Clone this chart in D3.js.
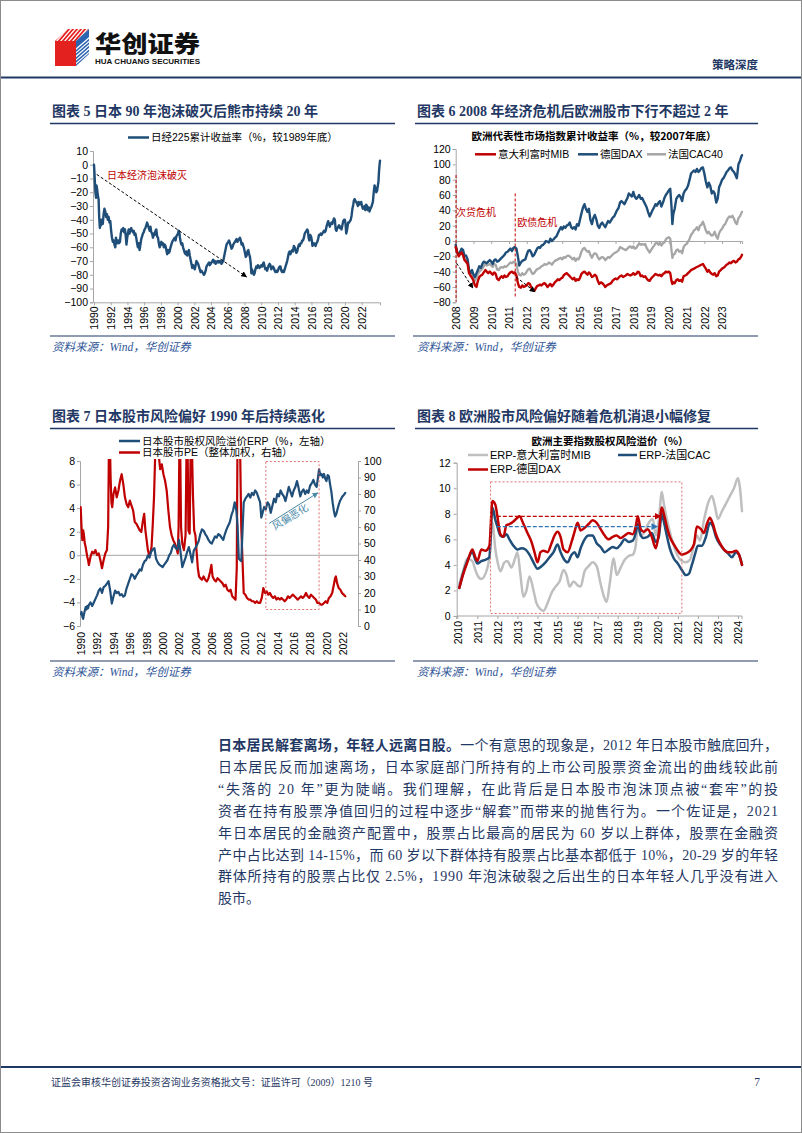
<!DOCTYPE html>
<html><head><meta charset="utf-8">
<script src="https://cdn.jsdelivr.net/npm/d3@7/dist/d3.min.js"></script>
<style>
html,body{margin:0;padding:0;background:#fff;}
svg{display:block;}
</style></head>
<body>
<svg id="page" width="802" height="1133"></svg>
<script>
// ---------------- DATA ----------------
const chart5Title = "图表 5 日本 90 年泡沫破灭后熊市持续 20 年";
const chart6Title = "图表 6 2008 年经济危机后欧洲股市下行不超过 2 年";
const chart7Title = "图表 7 日本股市风险偏好 1990 年后持续恶化";
const chart8Title = "图表 8 欧洲股市风险偏好随着危机消退小幅修复";
const sourceText = "资料来源：Wind，华创证券";

const nikkeiTicksY = [10,0,-10,-20,-30,-40,-50,-60,-70,-80,-90,-100];
const nikkeiTicksX = [1990,1992,1994,1996,1998,2000,2002,2004,2006,2008,2010,2012,2014,2016,2018,2020,2022];
const nikkei = [[1990.00,0],[1990.05,-5],[1990.10,-12],[1990.17,-20],[1990.25,-24],[1990.30,-15],[1990.38,-18],[1990.45,-22],[1990.55,-25],[1990.62,-38],[1990.70,-46],[1990.78,-40],[1990.85,-44],[1990.95,-40],[1991.05,-43],[1991.15,-36],[1991.25,-32],[1991.35,-34],[1991.45,-38],[1991.55,-36],[1991.65,-40],[1991.75,-38],[1991.85,-42],[1991.95,-41],[1992.05,-48],[1992.15,-53],[1992.25,-56],[1992.35,-55],[1992.45,-58],[1992.55,-60],[1992.62,-53],[1992.70,-55],[1992.80,-57],[1992.90,-55],[1993.00,-57],[1993.10,-56],[1993.20,-50],[1993.30,-47],[1993.40,-48],[1993.50,-46],[1993.60,-49],[1993.70,-47],[1993.80,-52],[1993.88,-58],[1993.95,-54],[1994.05,-50],[1994.15,-47],[1994.25,-50],[1994.35,-47],[1994.45,-46],[1994.55,-48],[1994.65,-49],[1994.75,-48],[1994.85,-51],[1994.95,-50],[1995.05,-53],[1995.15,-57],[1995.25,-60],[1995.35,-57],[1995.45,-62],[1995.55,-58],[1995.65,-54],[1995.75,-52],[1995.85,-50],[1995.95,-49],[1996.05,-47],[1996.15,-46],[1996.25,-44],[1996.35,-42],[1996.45,-44],[1996.55,-46],[1996.65,-48],[1996.75,-45],[1996.85,-49],[1996.95,-50],[1997.05,-53],[1997.15,-50],[1997.25,-51],[1997.35,-48],[1997.45,-47],[1997.55,-52],[1997.65,-53],[1997.75,-57],[1997.85,-60],[1997.95,-58],[1998.05,-56],[1998.15,-58],[1998.25,-57],[1998.35,-60],[1998.45,-58],[1998.55,-59],[1998.65,-62],[1998.75,-65],[1998.85,-62],[1998.95,-64],[1999.05,-63],[1999.15,-60],[1999.25,-58],[1999.35,-56],[1999.45,-55],[1999.55,-54],[1999.65,-53],[1999.75,-55],[1999.85,-52],[1999.95,-51],[2000.05,-50],[2000.12,-48],[2000.20,-49],[2000.28,-53],[2000.36,-56],[2000.45,-58],[2000.55,-57],[2000.65,-60],[2000.75,-62],[2000.85,-64],[2000.95,-65],[2001.05,-63],[2001.15,-66],[2001.25,-64],[2001.35,-62],[2001.45,-66],[2001.55,-69],[2001.65,-72],[2001.75,-75],[2001.85,-73],[2001.95,-74],[2002.05,-76],[2002.15,-73],[2002.25,-70],[2002.35,-71],[2002.45,-72],[2002.55,-74],[2002.65,-76],[2002.75,-78],[2002.85,-77],[2002.95,-78],[2003.05,-79],[2003.15,-80],[2003.25,-79],[2003.35,-77],[2003.45,-74],[2003.55,-73],[2003.65,-72],[2003.75,-71],[2003.85,-73],[2003.95,-72],[2004.05,-71],[2004.15,-70],[2004.25,-69],[2004.35,-71],[2004.45,-70],[2004.55,-72],[2004.65,-71],[2004.75,-70],[2004.85,-71],[2004.95,-70],[2005.05,-71],[2005.15,-70],[2005.25,-72],[2005.35,-71],[2005.45,-70],[2005.55,-67],[2005.65,-64],[2005.75,-61],[2005.85,-58],[2005.95,-57],[2006.05,-56],[2006.15,-55],[2006.25,-57],[2006.35,-59],[2006.45,-61],[2006.55,-60],[2006.65,-58],[2006.75,-57],[2006.85,-56],[2006.95,-55],[2007.05,-54],[2007.15,-56],[2007.25,-55],[2007.35,-54],[2007.45,-53],[2007.55,-55],[2007.65,-58],[2007.75,-57],[2007.85,-59],[2007.95,-61],[2008.05,-64],[2008.15,-67],[2008.25,-66],[2008.35,-63],[2008.45,-62],[2008.55,-65],[2008.65,-67],[2008.75,-72],[2008.82,-79],[2008.88,-76],[2008.95,-77],[2009.05,-79],[2009.12,-80],[2009.20,-79],[2009.30,-76],[2009.40,-74],[2009.50,-75],[2009.60,-73],[2009.70,-74],[2009.80,-75],[2009.90,-74],[2010.00,-73],[2010.10,-74],[2010.20,-72],[2010.30,-71],[2010.40,-74],[2010.50,-76],[2010.60,-75],[2010.70,-77],[2010.80,-75],[2010.90,-73],[2011.00,-72],[2011.10,-73],[2011.20,-76],[2011.30,-75],[2011.40,-74],[2011.50,-75],[2011.60,-77],[2011.70,-78],[2011.80,-77],[2011.90,-78],[2012.00,-77],[2012.10,-75],[2012.20,-74],[2012.30,-74],[2012.40,-77],[2012.50,-78],[2012.60,-77],[2012.70,-78],[2012.80,-76],[2012.90,-74],[2013.00,-72],[2013.10,-70],[2013.20,-67],[2013.30,-64],[2013.40,-63],[2013.50,-65],[2013.60,-63],[2013.70,-62],[2013.80,-63],[2013.90,-59],[2014.00,-60],[2014.10,-62],[2014.20,-64],[2014.30,-63],[2014.40,-60],[2014.50,-58],[2014.60,-59],[2014.70,-57],[2014.80,-57],[2014.90,-55],[2015.00,-55],[2015.10,-53],[2015.20,-50],[2015.30,-49],[2015.40,-48],[2015.50,-47],[2015.58,-48],[2015.66,-53],[2015.75,-55],[2015.85,-51],[2015.95,-52],[2016.05,-55],[2016.12,-59],[2016.20,-58],[2016.30,-57],[2016.40,-58],[2016.50,-59],[2016.60,-57],[2016.70,-56],[2016.80,-54],[2016.90,-51],[2017.00,-51],[2017.10,-50],[2017.20,-51],[2017.30,-50],[2017.40,-49],[2017.50,-48],[2017.60,-49],[2017.70,-48],[2017.80,-45],[2017.90,-43],[2018.00,-41],[2018.10,-43],[2018.20,-45],[2018.30,-43],[2018.40,-42],[2018.50,-43],[2018.60,-41],[2018.70,-39],[2018.80,-40],[2018.90,-47],[2019.00,-48],[2019.10,-46],[2019.20,-45],[2019.30,-44],[2019.40,-46],[2019.50,-45],[2019.60,-47],[2019.70,-44],[2019.80,-41],[2019.90,-40],[2020.00,-40],[2020.08,-43],[2020.16,-50],[2020.24,-48],[2020.32,-45],[2020.40,-42],[2020.50,-42],[2020.60,-41],[2020.70,-40],[2020.80,-37],[2020.90,-32],[2021.00,-29],[2021.08,-26],[2021.16,-25],[2021.25,-26],[2021.35,-27],[2021.45,-28],[2021.55,-30],[2021.65,-27],[2021.75,-29],[2021.85,-28],[2021.95,-27],[2022.05,-30],[2022.15,-32],[2022.25,-31],[2022.35,-30],[2022.45,-33],[2022.55,-29],[2022.65,-30],[2022.75,-33],[2022.85,-31],[2022.95,-34],[2023.05,-32],[2023.15,-31],[2023.25,-29],[2023.35,-27],[2023.45,-20],[2023.55,-15],[2023.65,-17],[2023.75,-20],[2023.85,-19],[2023.95,-15],[2024.02,-12],[2024.08,-5],[2024.15,0],[2024.20,3]];

const euTicksY = [120,100,80,60,40,20,0,-20,-40,-60,-80];
const euTicksX = [2008,2009,2010,2011,2012,2013,2014,2015,2016,2017,2018,2019,2020,2021,2022,2023];
const euNames = ["意大利富时MIB","德国DAX","法国CAC40"];
const dax = [[2008.00,-5],[2008.08,-15],[2008.17,-18],[2008.25,-14],[2008.33,-10],[2008.42,-12],[2008.50,-20],[2008.58,-19],[2008.67,-24],[2008.75,-38],[2008.83,-42],[2008.92,-38],[2009.00,-44],[2009.08,-47],[2009.17,-42],[2009.25,-38],[2009.33,-33],[2009.42,-35],[2009.50,-30],[2009.58,-27],[2009.67,-28],[2009.75,-29],[2009.83,-27],[2009.92,-25],[2010.00,-27],[2010.08,-30],[2010.17,-25],[2010.25,-24],[2010.33,-27],[2010.42,-26],[2010.50,-24],[2010.58,-22],[2010.67,-20],[2010.75,-18],[2010.83,-15],[2010.92,-14],[2011.00,-12],[2011.08,-10],[2011.17,-13],[2011.25,-9],[2011.33,-8],[2011.42,-10],[2011.50,-20],[2011.58,-32],[2011.67,-28],[2011.75,-26],[2011.83,-25],[2011.92,-24],[2012.00,-18],[2012.08,-13],[2012.17,-12],[2012.25,-15],[2012.33,-20],[2012.42,-18],[2012.50,-14],[2012.58,-10],[2012.67,-8],[2012.75,-9],[2012.83,-6],[2012.92,-5],[2013.00,-3],[2013.08,0],[2013.17,-1],[2013.25,-2],[2013.33,3],[2013.42,0],[2013.50,2],[2013.58,4],[2013.67,6],[2013.75,10],[2013.83,14],[2013.92,18],[2014.00,15],[2014.08,19],[2014.17,17],[2014.25,20],[2014.33,21],[2014.42,24],[2014.50,18],[2014.58,16],[2014.67,18],[2014.75,15],[2014.83,22],[2014.92,20],[2015.00,28],[2015.08,36],[2015.17,44],[2015.25,48],[2015.33,42],[2015.42,38],[2015.50,42],[2015.58,28],[2015.67,22],[2015.75,30],[2015.83,34],[2015.92,28],[2016.00,20],[2016.08,17],[2016.17,22],[2016.25,24],[2016.33,21],[2016.42,18],[2016.50,22],[2016.58,26],[2016.67,24],[2016.75,27],[2016.83,30],[2016.92,32],[2017.00,36],[2017.08,40],[2017.17,43],[2017.25,50],[2017.33,52],[2017.42,50],[2017.50,48],[2017.58,52],[2017.67,56],[2017.75,62],[2017.83,60],[2017.92,58],[2018.00,64],[2018.08,58],[2018.17,55],[2018.25,57],[2018.33,60],[2018.42,55],[2018.50,56],[2018.58,52],[2018.67,48],[2018.75,44],[2018.83,38],[2018.92,32],[2019.00,36],[2019.08,40],[2019.17,44],[2019.25,48],[2019.33,46],[2019.42,50],[2019.50,52],[2019.58,45],[2019.67,50],[2019.75,56],[2019.83,60],[2019.92,63],[2020.00,66],[2020.08,68],[2020.15,45],[2020.20,22],[2020.25,35],[2020.33,42],[2020.42,55],[2020.50,58],[2020.58,60],[2020.67,57],[2020.75,52],[2020.83,62],[2020.92,66],[2021.00,68],[2021.08,72],[2021.17,80],[2021.25,88],[2021.33,90],[2021.42,92],[2021.50,90],[2021.58,94],[2021.67,90],[2021.75,92],[2021.83,95],[2021.92,96],[2022.00,88],[2022.08,78],[2022.17,70],[2022.25,76],[2022.33,72],[2022.42,62],[2022.50,65],[2022.58,62],[2022.67,50],[2022.75,55],[2022.83,70],[2022.92,75],[2023.00,80],[2023.08,82],[2023.17,86],[2023.25,90],[2023.33,92],[2023.42,95],[2023.50,96],[2023.58,92],[2023.67,90],[2023.75,86],[2023.83,82],[2023.92,100],[2024.00,104],[2024.08,110],[2024.12,112]];
const cac40 = [[2008.00,-8],[2008.08,-15],[2008.17,-18],[2008.25,-15],[2008.33,-13],[2008.42,-17],[2008.50,-24],[2008.58,-25],[2008.67,-28],[2008.75,-38],[2008.83,-42],[2008.92,-43],[2009.00,-45],[2009.08,-52],[2009.17,-48],[2009.25,-43],[2009.33,-40],[2009.42,-38],[2009.50,-36],[2009.58,-33],[2009.67,-30],[2009.75,-32],[2009.83,-31],[2009.92,-30],[2010.00,-32],[2010.08,-34],[2010.17,-30],[2010.25,-31],[2010.33,-37],[2010.42,-38],[2010.50,-35],[2010.58,-34],[2010.67,-35],[2010.75,-33],[2010.83,-34],[2010.92,-32],[2011.00,-30],[2011.08,-28],[2011.17,-29],[2011.25,-27],[2011.33,-28],[2011.42,-30],[2011.50,-40],[2011.58,-44],[2011.67,-45],[2011.75,-42],[2011.83,-44],[2011.92,-43],[2012.00,-40],[2012.08,-37],[2012.17,-36],[2012.25,-40],[2012.33,-43],[2012.42,-42],[2012.50,-39],[2012.58,-37],[2012.67,-36],[2012.75,-35],[2012.83,-33],[2012.92,-32],[2013.00,-30],[2013.08,-31],[2013.17,-30],[2013.25,-28],[2013.33,-29],[2013.42,-31],[2013.50,-28],[2013.58,-26],[2013.67,-25],[2013.75,-24],[2013.83,-23],[2013.92,-22],[2014.00,-24],[2014.08,-21],[2014.17,-22],[2014.25,-20],[2014.33,-19],[2014.42,-20],[2014.50,-22],[2014.58,-24],[2014.67,-22],[2014.75,-26],[2014.83,-23],[2014.92,-24],[2015.00,-20],[2015.08,-14],[2015.17,-10],[2015.25,-9],[2015.33,-12],[2015.42,-14],[2015.50,-13],[2015.58,-18],[2015.67,-22],[2015.75,-18],[2015.83,-16],[2015.92,-17],[2016.00,-21],[2016.08,-24],[2016.17,-22],[2016.25,-21],[2016.33,-22],[2016.42,-25],[2016.50,-23],[2016.58,-21],[2016.67,-22],[2016.75,-20],[2016.83,-18],[2016.92,-16],[2017.00,-15],[2017.08,-14],[2017.17,-12],[2017.25,-8],[2017.33,-9],[2017.42,-10],[2017.50,-11],[2017.58,-12],[2017.67,-10],[2017.75,-8],[2017.83,-7],[2017.92,-9],[2018.00,-7],[2018.08,-10],[2018.17,-9],[2018.25,-6],[2018.33,-3],[2018.42,-5],[2018.50,-4],[2018.58,-5],[2018.67,-4],[2018.75,-9],[2018.83,-12],[2018.92,-15],[2019.00,-12],[2019.08,-9],[2019.17,-6],[2019.25,-3],[2019.33,-2],[2019.42,-5],[2019.50,-2],[2019.58,-6],[2019.67,-3],[2019.75,-2],[2019.83,2],[2019.92,4],[2020.00,5],[2020.08,3],[2020.15,-12],[2020.20,-22],[2020.25,-18],[2020.33,-17],[2020.42,-12],[2020.50,-11],[2020.58,-14],[2020.67,-13],[2020.75,-16],[2020.83,-8],[2020.92,-5],[2021.00,-4],[2021.08,-1],[2021.17,3],[2021.25,8],[2021.33,10],[2021.42,14],[2021.50,15],[2021.58,18],[2021.67,14],[2021.75,20],[2021.83,21],[2021.92,25],[2022.00,20],[2022.08,14],[2022.17,10],[2022.25,12],[2022.33,9],[2022.42,7],[2022.50,8],[2022.58,12],[2022.67,6],[2022.75,3],[2022.83,10],[2022.92,14],[2023.00,16],[2023.08,20],[2023.17,22],[2023.25,26],[2023.33,30],[2023.42,32],[2023.50,31],[2023.58,33],[2023.67,29],[2023.75,24],[2023.83,22],[2023.92,30],[2024.00,32],[2024.08,36],[2024.12,38]];
const mib = [[2008.00,-8],[2008.08,-14],[2008.17,-20],[2008.25,-17],[2008.33,-15],[2008.42,-19],[2008.50,-25],[2008.58,-27],[2008.67,-30],[2008.75,-42],[2008.83,-45],[2008.92,-48],[2009.00,-52],[2009.08,-58],[2009.17,-60],[2009.25,-52],[2009.33,-47],[2009.42,-45],[2009.50,-44],[2009.58,-41],[2009.67,-38],[2009.75,-40],[2009.83,-42],[2009.92,-40],[2010.00,-42],[2010.08,-44],[2010.17,-41],[2010.25,-43],[2010.33,-49],[2010.42,-51],[2010.50,-48],[2010.58,-46],[2010.67,-48],[2010.75,-45],[2010.83,-47],[2010.92,-46],[2011.00,-43],[2011.08,-41],[2011.17,-40],[2011.25,-42],[2011.33,-41],[2011.42,-45],[2011.50,-55],[2011.58,-60],[2011.67,-61],[2011.75,-58],[2011.83,-60],[2011.92,-59],[2012.00,-58],[2012.08,-55],[2012.17,-56],[2012.25,-60],[2012.33,-64],[2012.42,-65],[2012.50,-62],[2012.58,-59],[2012.67,-58],[2012.75,-57],[2012.83,-58],[2012.92,-56],[2013.00,-55],[2013.08,-57],[2013.17,-60],[2013.25,-58],[2013.33,-56],[2013.42,-59],[2013.50,-57],[2013.58,-54],[2013.67,-52],[2013.75,-50],[2013.83,-51],[2013.92,-49],[2014.00,-48],[2014.08,-45],[2014.17,-43],[2014.25,-42],[2014.33,-44],[2014.42,-46],[2014.50,-48],[2014.58,-50],[2014.67,-48],[2014.75,-52],[2014.83,-50],[2014.92,-51],[2015.00,-48],[2015.08,-43],[2015.17,-41],[2015.25,-40],[2015.33,-42],[2015.42,-44],[2015.50,-41],[2015.58,-43],[2015.67,-47],[2015.75,-46],[2015.83,-44],[2015.92,-46],[2016.00,-52],[2016.08,-56],[2016.17,-54],[2016.25,-55],[2016.33,-57],[2016.42,-60],[2016.50,-58],[2016.58,-57],[2016.67,-56],[2016.75,-55],[2016.83,-52],[2016.92,-50],[2017.00,-49],[2017.08,-50],[2017.17,-48],[2017.25,-46],[2017.33,-45],[2017.42,-47],[2017.50,-46],[2017.58,-45],[2017.67,-43],[2017.75,-44],[2017.83,-45],[2017.92,-44],[2018.00,-42],[2018.08,-44],[2018.17,-43],[2018.25,-40],[2018.33,-41],[2018.42,-46],[2018.50,-45],[2018.58,-47],[2018.67,-46],[2018.75,-49],[2018.83,-51],[2018.92,-52],[2019.00,-49],[2019.08,-47],[2019.17,-45],[2019.25,-43],[2019.33,-44],[2019.42,-45],[2019.50,-44],[2019.58,-46],[2019.67,-43],[2019.75,-42],[2019.83,-40],[2019.92,-41],[2020.00,-40],[2020.08,-42],[2020.15,-52],[2020.20,-56],[2020.25,-54],[2020.33,-55],[2020.42,-51],[2020.50,-50],[2020.58,-52],[2020.67,-51],[2020.75,-53],[2020.83,-46],[2020.92,-45],[2021.00,-44],[2021.08,-42],[2021.17,-40],[2021.25,-38],[2021.33,-37],[2021.42,-36],[2021.50,-35],[2021.58,-34],[2021.67,-33],[2021.75,-32],[2021.83,-31],[2021.92,-30],[2022.00,-33],[2022.08,-36],[2022.17,-40],[2022.25,-38],[2022.33,-41],[2022.42,-43],[2022.50,-44],[2022.58,-42],[2022.67,-46],[2022.75,-45],[2022.83,-40],[2022.92,-38],[2023.00,-36],[2023.08,-35],[2023.17,-33],[2023.25,-31],[2023.33,-30],[2023.42,-28],[2023.50,-29],[2023.58,-27],[2023.67,-26],[2023.75,-28],[2023.83,-27],[2023.92,-24],[2024.00,-23],[2024.08,-20],[2024.12,-18]];

const jpTicksLeft = [8,6,4,2,0,-2,-4,-6];
const jpTicksRight = [100,90,80,70,60,50,40,30,20,10,0];
const jpTicksX = [1990,1992,1994,1996,1998,2000,2002,2004,2006,2008,2010,2012,2014,2016,2018,2020,2022];
const jpNames = ["日本股市股权风险溢价ERP（%，左轴）","日本股市PE（整体加权，右轴）"];
const jpErp = [[1990.0,-5.0],[1990.1,-4.8],[1990.2,-5.2],[1990.3,-5.4],[1990.4,-5.0],[1990.5,-4.7],[1990.6,-4.4],[1990.7,-4.6],[1990.8,-4.3],[1990.9,-4.5],[1991.0,-4.2],[1991.2,-4.0],[1991.4,-4.3],[1991.6,-4.0],[1991.8,-3.7],[1992.0,-3.4],[1992.2,-3.0],[1992.4,-2.8],[1992.6,-3.2],[1992.8,-2.7],[1993.0,-2.6],[1993.2,-2.4],[1993.4,-2.2],[1993.6,-3.0],[1993.8,-4.1],[1994.0,-3.5],[1994.2,-3.0],[1994.4,-3.2],[1994.6,-3.1],[1994.8,-3.4],[1995.0,-3.3],[1995.2,-3.5],[1995.4,-3.4],[1995.6,-2.8],[1995.8,-2.4],[1996.0,-2.0],[1996.2,-1.6],[1996.4,-1.7],[1996.6,-2.0],[1996.8,-1.7],[1997.0,-1.5],[1997.2,-1.2],[1997.4,-1.3],[1997.6,-0.8],[1997.8,-0.5],[1998.0,-0.4],[1998.2,0.0],[1998.4,-0.2],[1998.6,0.3],[1998.8,0.5],[1999.0,0.6],[1999.2,-0.3],[1999.4,-0.6],[1999.6,-0.8],[1999.8,-0.9],[2000.0,-1.0],[2000.2,-0.8],[2000.4,-0.6],[2000.6,-0.4],[2000.8,0.0],[2001.0,0.2],[2001.2,0.7],[2001.4,0.9],[2001.6,0.6],[2001.8,0.5],[2002.0,1.3],[2002.2,0.2],[2002.4,-1.0],[2002.6,-0.6],[2002.8,-0.2],[2003.0,0.3],[2003.2,0.7],[2003.4,0.1],[2003.6,-0.6],[2003.8,0.4],[2004.0,0.6],[2004.2,0.9],[2004.4,1.2],[2004.6,1.8],[2004.8,2.2],[2005.0,2.1],[2005.2,1.8],[2005.4,1.6],[2005.6,1.3],[2005.8,1.1],[2006.0,1.0],[2006.2,1.3],[2006.4,1.6],[2006.6,1.5],[2006.8,1.8],[2007.0,1.7],[2007.2,1.5],[2007.4,1.3],[2007.6,1.8],[2007.8,2.2],[2008.0,2.5],[2008.2,2.8],[2008.4,3.4],[2008.6,3.8],[2008.8,4.5],[2009.0,3.8],[2009.15,2.5],[2009.3,-0.3],[2009.45,-0.4],[2009.6,-0.5],[2009.75,2.0],[2009.9,4.5],[2010.1,4.8],[2010.3,5.0],[2010.5,5.2],[2010.7,4.9],[2010.9,5.3],[2011.1,5.1],[2011.3,5.5],[2011.5,5.3],[2011.7,4.9],[2011.9,4.5],[2012.05,3.2],[2012.2,3.6],[2012.4,4.1],[2012.6,3.9],[2012.8,4.5],[2013.0,4.3],[2013.2,3.6],[2013.4,4.2],[2013.6,4.8],[2013.8,4.5],[2014.0,5.2],[2014.2,5.0],[2014.4,5.5],[2014.6,5.2],[2014.8,5.0],[2015.0,4.6],[2015.2,5.2],[2015.4,5.8],[2015.6,5.4],[2015.8,5.0],[2016.0,5.5],[2016.2,5.8],[2016.4,6.3],[2016.6,5.7],[2016.8,5.0],[2017.0,5.4],[2017.2,5.6],[2017.4,5.2],[2017.6,5.5],[2017.8,5.3],[2018.0,5.9],[2018.2,6.1],[2018.4,6.4],[2018.6,6.0],[2018.8,5.8],[2018.95,6.5],[2019.1,7.3],[2019.25,6.8],[2019.4,6.9],[2019.55,6.6],[2019.7,6.9],[2019.85,6.5],[2020.0,6.3],[2020.15,6.8],[2020.3,6.7],[2020.45,6.0],[2020.6,5.4],[2020.75,4.5],[2020.9,3.8],[2021.05,3.3],[2021.2,3.5],[2021.35,3.9],[2021.5,4.3],[2021.65,4.6],[2021.8,4.8],[2021.95,5.0],[2022.1,5.1],[2022.3,5.3]];
const jpPe = [[1990.0,72],[1990.1,60],[1990.2,52],[1990.3,58],[1990.4,55],[1990.5,50],[1990.6,48],[1990.7,45],[1990.8,42],[1990.9,40],[1991.0,37],[1991.2,42],[1991.4,45],[1991.6,44],[1991.8,46],[1992.0,43],[1992.2,44],[1992.4,40],[1992.6,35],[1992.8,40],[1993.0,44],[1993.2,46],[1993.35,60],[1993.45,110],[1993.55,115],[1993.65,90],[1993.75,75],[1993.85,72],[1994.0,80],[1994.2,84],[1994.4,78],[1994.6,82],[1994.8,88],[1995.0,92],[1995.2,86],[1995.4,78],[1995.6,74],[1995.8,72],[1996.0,76],[1996.2,73],[1996.4,70],[1996.6,63],[1996.8,62],[1997.0,60],[1997.2,58],[1997.4,57],[1997.6,64],[1997.75,68],[1997.9,58],[1998.05,52],[1998.2,46],[1998.35,43],[1998.5,44],[1998.65,48],[1998.8,62],[1998.95,78],[1999.1,105],[1999.3,110],[1999.5,105],[1999.7,95],[1999.9,98],[2000.1,92],[2000.3,88],[2000.5,82],[2000.7,70],[2000.9,60],[2001.1,55],[2001.3,52],[2001.5,50],[2001.7,47],[2001.85,44],[2001.95,60],[2002.05,110],[2002.15,105],[2002.25,60],[2002.4,50],[2002.6,46],[2002.8,55],[2002.95,120],[2003.05,110],[2003.15,58],[2003.3,56],[2003.45,120],[2003.55,115],[2003.7,80],[2003.85,58],[2004.0,55],[2004.15,45],[2004.3,35],[2004.45,30],[2004.6,29],[2004.8,28],[2005.0,30],[2005.2,28],[2005.4,27],[2005.6,29],[2005.8,33],[2005.95,37],[2006.1,30],[2006.3,28],[2006.5,27],[2006.7,29],[2006.9,28],[2007.1,27],[2007.3,26],[2007.5,24],[2007.7,25],[2007.9,22],[2008.1,21],[2008.3,22],[2008.5,18],[2008.7,17],[2008.9,16],[2009.05,35],[2009.15,120],[2009.3,120],[2009.45,110],[2009.6,60],[2009.75,40],[2009.9,20],[2010.1,19],[2010.3,17],[2010.5,16],[2010.7,16],[2010.9,15],[2011.1,15],[2011.3,14],[2011.5,15],[2011.7,14],[2011.9,14],[2012.1,17],[2012.3,23],[2012.5,20],[2012.7,21],[2012.9,19],[2013.1,20],[2013.3,18],[2013.5,17],[2013.7,18],[2013.9,16],[2014.1,17],[2014.3,16],[2014.5,17],[2014.7,16],[2014.9,15],[2015.1,16],[2015.3,18],[2015.5,17],[2015.7,18],[2015.9,19],[2016.1,18],[2016.3,17],[2016.5,16],[2016.7,17],[2016.9,18],[2017.1,17],[2017.3,18],[2017.5,20],[2017.7,18],[2017.9,17],[2018.1,19],[2018.3,18],[2018.5,17],[2018.7,16],[2018.9,14],[2019.1,14],[2019.3,13],[2019.5,13],[2019.7,14],[2019.9,15],[2020.1,14],[2020.3,17],[2020.5,18],[2020.7,20],[2020.9,25],[2021.05,29],[2021.15,30],[2021.3,26],[2021.5,23],[2021.7,22],[2021.9,20],[2022.1,19],[2022.3,18]];

const erpTicksY = [12,10,8,6,4,2,0];
const erpTicksX = [2010,2011,2012,2013,2014,2015,2016,2017,2018,2019,2020,2021,2022,2023,2024];
const erpNames = ["ERP-意大利富时MIB","ERP-法国CAC","ERP-德国DAX"];
const erpDax = [[2010.1,2.2],[2010.3,3.3],[2010.5,4.2],[2010.75,5.2],[2010.9,4.6],[2011.0,4.3],[2011.2,5.2],[2011.4,5.1],[2011.6,5.5],[2011.75,9.0],[2011.9,8.7],[2012.0,7.8],[2012.15,6.4],[2012.3,6.2],[2012.45,7.1],[2012.6,7.2],[2012.8,7.4],[2013.0,7.7],[2013.1,7.8],[2013.3,7.2],[2013.5,6.5],[2013.7,5.8],[2013.85,5.0],[2014.0,4.2],[2014.15,5.0],[2014.3,5.1],[2014.5,5.0],[2014.7,5.7],[2014.85,6.3],[2015.0,6.6],[2015.15,6.2],[2015.3,5.2],[2015.5,5.0],[2015.7,5.8],[2015.85,6.6],[2016.0,7.3],[2016.15,6.7],[2016.35,6.9],[2016.55,7.2],[2016.75,7.5],[2016.95,7.3],[2017.15,6.8],[2017.35,6.3],[2017.55,6.0],[2017.75,6.2],[2017.95,6.3],[2018.15,6.1],[2018.35,6.3],[2018.55,6.5],[2018.75,6.4],[2018.9,7.0],[2019.0,7.8],[2019.15,6.8],[2019.3,6.6],[2019.5,6.8],[2019.7,6.2],[2019.9,5.3],[2020.05,6.5],[2020.2,8.5],[2020.3,8.0],[2020.45,7.0],[2020.6,6.2],[2020.8,5.6],[2021.0,5.1],[2021.2,4.8],[2021.4,4.9],[2021.6,5.1],[2021.8,5.6],[2021.95,7.0],[2022.15,6.8],[2022.3,6.5],[2022.45,7.2],[2022.6,7.7],[2022.75,7.2],[2022.9,6.4],[2023.1,5.7],[2023.3,5.2],[2023.5,5.0],[2023.7,5.0],[2023.9,5.1],[2024.05,4.8],[2024.2,4.0]];
const erpCac = [[2010.1,2.2],[2010.3,3.4],[2010.5,4.3],[2010.75,5.0],[2010.9,4.4],[2011.0,4.1],[2011.2,4.3],[2011.4,4.4],[2011.6,4.6],[2011.75,8.5],[2011.9,7.5],[2012.0,7.0],[2012.15,6.3],[2012.3,6.2],[2012.45,6.4],[2012.6,6.0],[2012.8,5.5],[2013.0,5.2],[2013.2,5.3],[2013.4,5.2],[2013.6,4.8],[2013.8,4.2],[2014.0,3.7],[2014.2,3.9],[2014.4,4.2],[2014.6,4.6],[2014.8,5.0],[2015.0,5.6],[2015.15,5.0],[2015.3,4.5],[2015.5,4.2],[2015.7,4.8],[2015.85,5.0],[2016.0,4.6],[2016.15,5.3],[2016.35,6.0],[2016.55,6.3],[2016.75,6.3],[2016.95,5.7],[2017.15,5.4],[2017.35,5.0],[2017.55,5.2],[2017.75,5.4],[2017.95,5.3],[2018.15,5.6],[2018.35,6.0],[2018.55,5.8],[2018.75,5.9],[2018.9,6.5],[2019.0,7.2],[2019.15,6.3],[2019.3,6.1],[2019.5,6.2],[2019.7,6.5],[2019.9,5.8],[2020.05,6.2],[2020.2,8.0],[2020.3,7.4],[2020.45,6.3],[2020.6,5.3],[2020.8,4.5],[2021.0,4.1],[2021.2,3.6],[2021.4,3.2],[2021.55,3.3],[2021.7,4.0],[2021.85,4.8],[2022.0,5.5],[2022.2,5.5],[2022.4,6.2],[2022.6,7.3],[2022.75,7.0],[2022.9,6.2],[2023.1,5.6],[2023.3,5.2],[2023.5,4.9],[2023.7,4.6],[2023.9,5.0],[2024.05,4.8],[2024.2,4.0]];
const erpMib = [[2010.1,2.5],[2010.3,3.6],[2010.5,4.5],[2010.75,4.3],[2010.9,3.6],[2011.0,3.2],[2011.2,2.9],[2011.4,3.3],[2011.6,4.6],[2011.75,7.3],[2011.9,5.2],[2012.0,4.3],[2012.15,3.5],[2012.35,4.2],[2012.5,4.3],[2012.7,3.8],[2012.9,4.6],[2013.0,5.0],[2013.15,3.2],[2013.3,1.5],[2013.45,2.0],[2013.6,3.1],[2013.8,2.0],[2013.95,1.0],[2014.1,0.6],[2014.3,0.4],[2014.5,1.0],[2014.7,1.8],[2014.9,2.3],[2015.1,2.7],[2015.3,3.6],[2015.45,3.2],[2015.6,2.3],[2015.8,2.7],[2016.0,2.4],[2016.15,2.3],[2016.35,3.5],[2016.55,3.9],[2016.75,4.2],[2016.95,3.9],[2017.15,2.5],[2017.3,1.6],[2017.45,1.1],[2017.6,2.5],[2017.8,4.5],[2017.95,3.2],[2018.15,3.8],[2018.35,4.4],[2018.55,4.7],[2018.75,4.8],[2018.9,5.5],[2019.0,7.1],[2019.15,6.3],[2019.35,6.6],[2019.55,7.3],[2019.75,7.6],[2019.9,6.3],[2020.05,7.5],[2020.2,9.7],[2020.3,8.8],[2020.45,7.6],[2020.6,6.6],[2020.8,5.5],[2021.0,4.7],[2021.2,4.3],[2021.4,4.2],[2021.6,4.4],[2021.8,5.5],[2021.95,6.3],[2022.1,5.9],[2022.3,7.5],[2022.5,8.8],[2022.7,9.4],[2022.85,8.6],[2023.0,7.6],[2023.2,8.2],[2023.4,8.8],[2023.6,9.4],[2023.8,10.0],[2024.0,10.8],[2024.1,10.0],[2024.2,8.2]];

const paraBold = "日本居民解套离场，年轻人远离日股。";
const paraLines = [
  "一个有意思的现象是，2012 年日本股市触底回升，",
  "日本居民反而加速离场，日本家庭部门所持有的上市公司股票资金流出的曲线较此前",
  "“失落的 20 年”更为陡峭。我们理解，在此背后是日本股市泡沫顶点被“套牢”的投",
  "资者在持有股票净值回归的过程中逐步“解套”而带来的抛售行为。一个佐证是，2021",
  "年日本居民的金融资产配置中，股票占比最高的居民为 60 岁以上群体，股票在金融资",
  "产中占比达到 14-15%，而 60 岁以下群体持有股票占比基本都低于 10%，20-29 岁的年轻",
  "群体所持有的股票占比仅 2.5%，1990 年泡沫破裂之后出生的日本年轻人几乎没有进入",
  "股市。"
];
const footerText = "证监会审核华创证券投资咨询业务资格批文号：证监许可（2009）1210 号";

// ---------------- STYLE ----------------
const NAVY = "#1F3864", BLUE = "#1F4E79", RED = "#C00000", GRAY = "#A6A6A6", LGRAY = "#BFBFBF";
const SANS = "'Liberation Sans', Arial, 'Noto Sans CJK SC', sans-serif";
const SERIF = "'Liberation Serif', 'Noto Sans CJK SC', serif";
const CJK = "'Noto Sans CJK SC', sans-serif";

const svg = d3.select("#page");
const defs = svg.append("defs");
function arrowMarker(id, color){
  defs.append("marker").attr("id", id).attr("viewBox","0 0 10 10").attr("refX",9).attr("refY",5)
    .attr("markerWidth",6).attr("markerHeight",6).attr("orient","auto-start-reverse")
    .append("path").attr("d","M0,0 L10,5 L0,10 z").attr("fill", color);
}
arrowMarker("arrBlack","#000");
arrowMarker("arrRed",RED);
arrowMarker("arrBlue","#2E75B6");
arrowMarker("arrTeal","#4A89A8");

// page frame
svg.append("rect").attr("x",0.5).attr("y",0.5).attr("width",801).attr("height",1132).attr("fill","none").attr("stroke","#8c8c8c");

// ---------------- HEADER ----------------
const logo = svg.append("g");
defs.append("clipPath").attr("id","clipTop").append("polygon").attr("points","55,41 68,29 89,29 76,41");
defs.append("clipPath").attr("id","clipSide").append("polygon").attr("points","76,41 89,29 89,54 76,66");
logo.append("polygon").attr("points","55,41 76,41 76,66 55,66").attr("fill","#E3211E");
logo.append("polygon").attr("points","55,41 68,29 89,29 76,41").attr("fill","#E3211E");
const gt = logo.append("g").attr("clip-path","url(#clipTop)");
for(let i=0;i<9;i++){
  gt.append("line").attr("x1",52+i*4).attr("y1",42).attr("x2",64+i*4).attr("y2",28).attr("stroke","#fff").attr("stroke-width",1.3);
}
logo.append("polygon").attr("points","76,41 89,29 89,54 76,66").attr("fill","#2B64B0");
const gs = logo.append("g").attr("clip-path","url(#clipSide)");
for(let i=0;i<6;i++){
  gs.append("line").attr("x1",75).attr("y1",50+i*3.6).attr("x2",90).attr("y2",37+i*3.6).attr("stroke","#fff").attr("stroke-width",1.2);
}
svg.append("text").attr("x",95).attr("y",52).attr("font-family",CJK).attr("font-weight",900)
  .attr("font-size",22.5).attr("fill","#111").attr("textLength",105).attr("lengthAdjust","spacingAndGlyphs").text("华创证券");
svg.append("text").attr("x",95).attr("y",64).attr("font-family",SANS).attr("font-weight",700)
  .attr("font-size",7.5).attr("fill","#111").attr("textLength",105).attr("lengthAdjust","spacingAndGlyphs").text("HUA CHUANG SECURITIES");
svg.append("text").attr("x",758).attr("y",69).attr("text-anchor","end").attr("font-family",CJK).attr("font-weight",700)
  .attr("font-size",11.5).attr("fill",NAVY).text("策略深度");
svg.append("line").attr("x1",1).attr("x2",801).attr("y1",77.5).attr("y2",77.5).attr("stroke",NAVY).attr("stroke-width",2.2);

// ---------------- helpers ----------------
function title(x, y, txt, x2){
  svg.append("text").attr("x",x).attr("y",y).attr("font-family",SERIF).attr("font-weight",700)
    .attr("font-size",14).attr("fill",NAVY).text(txt);
  svg.append("line").attr("x1",x-2).attr("x2",x2).attr("y1",y+7.5).attr("y2",y+7.5).attr("stroke",NAVY).attr("stroke-width",1.3);
}
function source(x, y, ruleX1, ruleX2){
  svg.append("line").attr("x1",ruleX1).attr("x2",ruleX2).attr("y1",y-15).attr("y2",y-15).attr("stroke",NAVY).attr("stroke-width",1.2);
  svg.append("text").attr("x",x).attr("y",y).attr("font-family",SERIF).attr("font-style","italic")
    .attr("font-size",11.5).attr("fill","#2F5597").text(sourceText);
}
function styleAxis(g, showDomain){
  g.select(".domain").attr("stroke", showDomain===false ? "none" : GRAY).attr("stroke-width",1);
  g.selectAll(".tick line").attr("stroke",GRAY);
  g.selectAll("text").attr("font-family",SANS).attr("font-size",10.5).attr("fill","#000");
}
function rotLabels(g, off){
  g.selectAll(".tick text").attr("transform","rotate(-90)").attr("x",-off).attr("y",0)
    .attr("dy","0.36em").style("text-anchor","end");
}
function legendLine(x, y, w, color, width, label, fs, font){
  svg.append("line").attr("x1",x).attr("x2",x+w).attr("y1",y).attr("y2",y).attr("stroke",color).attr("stroke-width",width);
  svg.append("text").attr("x",x+w+2).attr("y",y+3.8).attr("font-family",font||SANS).attr("font-size",fs||10.5)
    .attr("fill","#000").text(label);
}
function drawLine(g, data, x, y, color, width, curve){
  g.append("path").datum(data).attr("fill","none").attr("stroke",color).attr("stroke-width",width)
    .attr("stroke-linejoin","round").attr("stroke-linecap","round")
    .attr("d", d3.line().x(d=>x(d[0])).y(d=>y(d[1])).curve(curve||d3.curveLinear));
}

// ================= CHART 5 =================
title(52, 116, chart5Title, 395);
const x5 = d3.scaleLinear().domain([1990, 2024.2]).range([94, 380]);
const y5 = d3.scaleLinear().domain([-100, 10]).range([302.3, 151]);
legendLine(128, 137.5, 21, BLUE, 2.5, "日经225累计收益率（%，较1989年底）", 10.5);
const g5 = svg.append("g");
const ax5y = g5.append("g").attr("transform","translate(93,0)").call(d3.axisLeft(y5).tickValues(nikkeiTicksY).tickSize(3).tickPadding(2));
styleAxis(ax5y);
const ax5x = g5.append("g").attr("transform",`translate(0,${y5(-100)})`).call(d3.axisBottom(x5).tickValues(nikkeiTicksX).tickFormat(d3.format("d")).tickSize(3));
styleAxis(ax5x); rotLabels(ax5x, 4);
drawLine(g5, nikkei, x5, y5, BLUE, 2.4);
g5.append("text").attr("x",x5(1991.55)).attr("y",y5(-10)).attr("font-family",CJK).attr("font-size",10).attr("fill",RED).text("日本经济泡沫破灭");
g5.append("line").attr("x1",x5(1990.32)).attr("y1",y5(-7)).attr("x2",x5(2008.24)).attr("y2",y5(-81.5))
  .attr("stroke","#000").attr("stroke-width",1).attr("stroke-dasharray","3,2").attr("marker-end","url(#arrBlack)");
source(52, 351, 50, 395);

// ================= CHART 6 =================
title(417, 116, chart6Title, 758);
svg.append("text").attr("x",594).attr("y",140).attr("text-anchor","middle").attr("font-family",CJK).attr("font-weight",700)
  .attr("font-size",10.5).attr("fill","#000").text("欧洲代表性市场指数累计收益率（%，较2007年底）");
const x6 = d3.scaleLinear().domain([2008, 2024.12]).range([455.7, 742]);
const y6 = d3.scaleLinear().domain([-80, 120]).range([302.3, 149]);
legendLine(475, 154.3, 21, RED, 2.5, euNames[0]);
legendLine(578, 154.3, 20, BLUE, 2.5, euNames[1]);
legendLine(647, 154.3, 19, GRAY, 2.5, euNames[2]);
const g6 = svg.append("g");
const ax6y = g6.append("g").attr("transform","translate(455.7,0)").call(d3.axisLeft(y6).tickValues(euTicksY).tickSize(3).tickPadding(2));
styleAxis(ax6y);
const ax6z = g6.append("g").attr("transform",`translate(0,${y6(0)})`).call(d3.axisBottom(x6).tickValues(euTicksX.concat([2024])).tickFormat("").tickSize(3));
styleAxis(ax6z);
const ax6x = g6.append("g").attr("transform",`translate(0,${y6(-80)})`).call(d3.axisBottom(x6).tickValues(euTicksX).tickFormat(d3.format("d")).tickSize(0));
styleAxis(ax6x, false); rotLabels(ax6x, 4);
drawLine(g6, cac40, x6, y6, GRAY, 2.3);
drawLine(g6, dax, x6, y6, BLUE, 2.4);
drawLine(g6, mib, x6, y6, RED, 2.4);
[[2008.02, 86, -79],[2011.35, 62, -75]].forEach(v=>{
  g6.append("line").attr("x1",x6(v[0])).attr("x2",x6(v[0])).attr("y1",y6(v[1])).attr("y2",y6(v[2]))
    .attr("stroke",RED).attr("stroke-width",1).attr("stroke-dasharray","3,2");
});
g6.append("text").attr("x",x6(2008.02)).attr("y",y6(32)).attr("font-family",CJK).attr("font-size",10).attr("fill",RED).text("次贷危机");
g6.append("text").attr("x",x6(2011.47)).attr("y",y6(20)).attr("font-family",CJK).attr("font-size",10).attr("fill",RED).text("欧债危机");
[[2008.05,-29,2008.97,-61.5],[2011.4,-47,2012.47,-66.5]].forEach(a=>{
  g6.append("line").attr("x1",x6(a[0])).attr("y1",y6(a[1])).attr("x2",x6(a[2])).attr("y2",y6(a[3]))
    .attr("stroke","#000").attr("stroke-width",1).attr("stroke-dasharray","3,2").attr("marker-end","url(#arrBlack)");
});
source(417, 351, 413, 758);

// ================= CHART 7 =================
title(52, 421, chart7Title, 395);
legendLine(119, 441, 21, BLUE, 2.5, jpNames[0], 10.5);
legendLine(119, 452.5, 21, RED, 2.5, jpNames[1], 10.5);
const x7 = d3.scaleLinear().domain([1990, 2022.3]).range([80.7, 345.3]);
const y7 = d3.scaleLinear().domain([-6, 8]).range([626, 461]);
const y7r = d3.scaleLinear().domain([0, 100]).range([626, 461]);
const g7 = svg.append("g");
const ax7y = g7.append("g").attr("transform","translate(80,0)").call(d3.axisLeft(y7).tickValues(jpTicksLeft).tickSize(3).tickPadding(2));
styleAxis(ax7y);
const ax7r = g7.append("g").attr("transform","translate(358,0)").call(d3.axisRight(y7r).tickValues(jpTicksRight).tickSize(3).tickPadding(3));
styleAxis(ax7r);
const ax7z = g7.append("g").attr("transform",`translate(0,${y7(0)})`).call(d3.axisBottom(x7).tickValues([]).tickSize(0));
ax7z.select(".domain").attr("d","M80,0H358");
styleAxis(ax7z);
const ax7x = g7.append("g").attr("transform",`translate(0,${y7(-6)})`).call(d3.axisBottom(x7).tickValues(jpTicksX).tickFormat(d3.format("d")).tickSize(0));
styleAxis(ax7x, false); rotLabels(ax7x, 6);
defs.append("clipPath").attr("id","clip7").append("rect").attr("x",80).attr("y",459).attr("width",278).attr("height",168);
const g7c = g7.append("g").attr("clip-path","url(#clip7)");
drawLine(g7c, jpPe, x7, y7r, RED, 2.2);
drawLine(g7c, jpErp, x7, y7, BLUE, 2.2);
g7.append("rect").attr("x",x7(2012.6)).attr("y",y7(7.95)).attr("width",x7(2019.1)-x7(2012.6)).attr("height",y7(-4.6)-y7(7.95))
  .attr("fill","none").attr("stroke","#E06060").attr("stroke-width",0.9).attr("stroke-dasharray","2,2");
g7.append("line").attr("x1",x7(2013.0)).attr("y1",y7(2.7)).attr("x2",x7(2018.95)).attr("y2",y7(5.3))
  .attr("stroke","#4A89A8").attr("stroke-width",1).attr("marker-end","url(#arrTeal)");
g7.append("text").attr("transform",`translate(${x7(2015.8)},${y7(3.0)}) rotate(-31)`).attr("text-anchor","middle")
  .attr("font-family",CJK).attr("font-size",10).attr("fill","#4A89A8").text("风偏恶化");
source(52, 676, 50, 395);

// ================= CHART 8 =================
title(417, 421, chart8Title, 758);
svg.append("text").attr("x",610).attr("y",444.5).attr("text-anchor","middle").attr("font-family",CJK).attr("font-weight",700)
  .attr("font-size",10.5).attr("fill","#000").text("欧洲主要指数股权风险溢价（%）");
legendLine(468, 455, 20, LGRAY, 2.5, erpNames[0], 11);
legendLine(618, 455, 19, BLUE, 2.5, erpNames[1], 11);
legendLine(468, 469.5, 20, RED, 2.5, erpNames[2], 11);
const x8 = d3.scaleLinear().domain([2010, 2024.2]).range([457.3, 742]);
const y8 = d3.scaleLinear().domain([0, 12]).range([616, 462.7]);
const g8 = svg.append("g");
const ax8y = g8.append("g").attr("transform","translate(456.7,0)").call(d3.axisLeft(y8).tickValues(erpTicksY).tickSize(3).tickPadding(3));
styleAxis(ax8y);
const ax8x = g8.append("g").attr("transform",`translate(0,${y8(0)})`).call(d3.axisBottom(x8).tickValues(erpTicksX).tickFormat(d3.format("d")).tickSize(3));
ax8x.select(".domain").attr("d","M456.7,3V0H742V3");
styleAxis(ax8x); rotLabels(ax8x, 5);
const sm = d3.curveMonotoneX;
drawLine(g8, erpMib, x8, y8, LGRAY, 2.5, sm);
drawLine(g8, erpCac, x8, y8, BLUE, 2.5, sm);
drawLine(g8, erpDax, x8, y8, RED, 2.5, sm);
g8.append("rect").attr("x",x8(2011.66)).attr("y",y8(10.5)).attr("width",x8(2021.2)-x8(2011.66)).attr("height",y8(0.2)-y8(10.5))
  .attr("fill","none").attr("stroke","#E06060").attr("stroke-width",0.9).attr("stroke-dasharray","2,2");
g8.append("line").attr("x1",x8(2011.97)).attr("x2",x8(2020.15)).attr("y1",y8(7.8)).attr("y2",y8(7.8))
  .attr("stroke",RED).attr("stroke-width",1.1).attr("stroke-dasharray","4,2").attr("marker-end","url(#arrRed)");
g8.append("line").attr("x1",x8(2011.97)).attr("x2",x8(2019.98)).attr("y1",y8(7.0)).attr("y2",y8(7.0))
  .attr("stroke","#2E75B6").attr("stroke-width",1.1).attr("stroke-dasharray","4,2").attr("marker-end","url(#arrBlue)");
source(417, 676, 413, 758);

// ================= PARAGRAPH =================
const px1 = 218, px2 = 778, py0 = 750, lh = 21.9;
paraLines.forEach((ln, i)=>{
  const t = svg.append("text").attr("x", px1).attr("y", py0 + i*lh).attr("font-family",SERIF)
    .attr("font-size",14).attr("fill",NAVY);
  if(i===0){
    t.append("tspan").attr("font-weight",700).attr("font-family",CJK).text(paraBold);
    t.append("tspan").text(ln);
  } else t.text(ln);
  if(i < paraLines.length-1) t.attr("textLength", px2-px1).attr("lengthAdjust","spacing");
});

// ================= FOOTER =================
svg.append("line").attr("x1",1).attr("x2",801).attr("y1",1067).attr("y2",1067).attr("stroke",NAVY).attr("stroke-width",2);
svg.append("text").attr("x",51).attr("y",1086).attr("font-family",SERIF).attr("font-size",10).attr("fill",NAVY)
  .attr("textLength",322).attr("lengthAdjust","spacingAndGlyphs").text(footerText);
svg.append("text").attr("x",760).attr("y",1086).attr("text-anchor","end").attr("font-family",SERIF).attr("font-size",11.5).attr("fill",NAVY).text("7");
</script>
</body></html>
